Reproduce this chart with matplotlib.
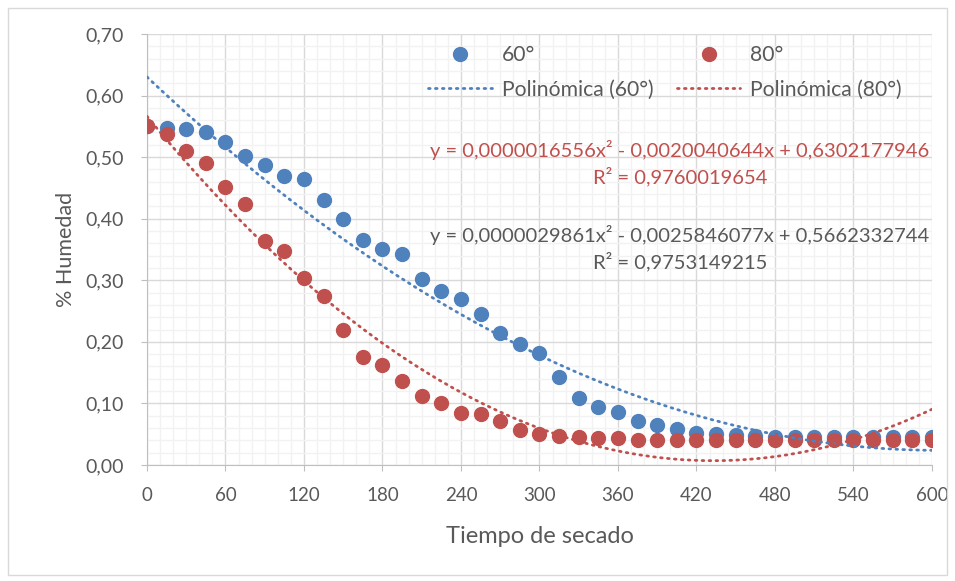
import matplotlib.pyplot as plt
import numpy as np
from matplotlib.patches import Rectangle
from matplotlib.ticker import MultipleLocator, FuncFormatter

# data
tiempo = list(range(0, 601, 15))
hum_60 = [0.550, 0.547, 0.545, 0.541, 0.525, 0.502, 0.487, 0.470, 0.464, 0.430,
          0.399, 0.365, 0.351, 0.343, 0.302, 0.282, 0.270, 0.245, 0.214, 0.197,
          0.182, 0.143, 0.108, 0.094, 0.086, 0.072, 0.065, 0.059, 0.052, 0.050,
          0.048, 0.047, 0.046, 0.046, 0.046, 0.046, 0.046, 0.046, 0.046, 0.046,
          0.046]
hum_80 = [0.551, 0.538, 0.510, 0.490, 0.452, 0.424, 0.363, 0.347, 0.304, 0.274,
          0.220, 0.176, 0.162, 0.137, 0.112, 0.101, 0.084, 0.082, 0.072, 0.057,
          0.050, 0.047, 0.046, 0.043, 0.043, 0.040, 0.040, 0.040, 0.040, 0.040,
          0.040, 0.040, 0.040, 0.040, 0.040, 0.040, 0.040, 0.040, 0.040, 0.040,
          0.040]

# trendline coefficients as printed on the chart
coef_60 = [0.0000016556, -0.0020040644, 0.6302177946]
coef_80 = [0.0000029861, -0.0025846077, 0.5662332744]
eq_a = "y = 0,0000016556x² - 0,0020040644x + 0,6302177946\nR² = 0,9760019654"
eq_b = "y = 0,0000029861x² - 0,0025846077x + 0,5662332744\nR² = 0,9753149215"

blue = '#4F81BD'
red = '#C0504D'
gray = '#595959'

plt.rcParams['font.family'] = ['Lato', 'DejaVu Sans']

fig = plt.figure(figsize=(9.55, 5.81), dpi=100)
ax = fig.add_axes([0.1539, 0.1997, 0.822, 0.7418])

fig.patches.append(Rectangle((8 / 955, 6 / 581), 939 / 955, 567 / 581,
                             transform=fig.transFigure, fill=False,
                             edgecolor='#D9D9D9', linewidth=1))

xs = np.linspace(0, 600, 300)
p60, = ax.plot(tiempo, hum_60, linestyle='none', marker='o', markersize=10,
               color=blue, label='60°', zorder=3)
p80, = ax.plot(tiempo, hum_80, linestyle='none', marker='o', markersize=10,
               color=red, label='80°', zorder=4)
t60, = ax.plot(xs, np.polyval(coef_60, xs), color=blue, linewidth=2,
               linestyle=(0, (0.6, 1.9)), dash_capstyle='round',
               label='Polinómica (60°)', zorder=5)
t80, = ax.plot(xs, np.polyval(coef_80, xs), color=red, linewidth=2,
               linestyle=(0, (0.6, 1.9)), dash_capstyle='round',
               label='Polinómica (80°)', zorder=5)

ax.set_xlim(0, 600)
ax.set_ylim(0, 0.70)
ax.xaxis.set_major_locator(MultipleLocator(60))
ax.xaxis.set_minor_locator(MultipleLocator(10))
ax.yaxis.set_major_locator(MultipleLocator(0.10))
ax.yaxis.set_minor_locator(MultipleLocator(0.02))
ax.yaxis.set_major_formatter(FuncFormatter(lambda v, p: f'{v:.2f}'.replace('.', ',')))
ax.grid(which='major', color='#D9D9D9', linewidth=1)
ax.grid(which='minor', color='#F2F2F2', linewidth=1)
ax.set_axisbelow(True)
for s in ['top', 'right']:
    ax.spines[s].set_visible(False)
for s in ['left', 'bottom']:
    ax.spines[s].set_color('#BFBFBF')
ax.tick_params(which='major', length=4.5, color='#BFBFBF', labelcolor=gray,
               labelsize=14)
ax.tick_params(axis='y', pad=12)
ax.tick_params(axis='x', pad=11, labelsize=13.5)
ax.tick_params(which='minor', length=0)

ax.set_xlabel('Tiempo de secado', color=gray, fontsize=17, labelpad=16)
ax.set_ylabel('% Humedad', color=gray, fontsize=15.5, labelpad=7)

ax.text(680 / 955, 1 - 163 / 581, eq_a, transform=fig.transFigure,
        ha='center', va='center', color=red, fontsize=14.5, linespacing=1.4)
ax.text(680 / 955, 1 - 248 / 581, eq_b, transform=fig.transFigure,
        ha='center', va='center', color=gray, fontsize=14.5, linespacing=1.4)

fig.legend(handles=[p60, t60, p80, t80], ncol=2, frameon=False,
           loc='upper left', bbox_to_anchor=(428 / 955, 1 - 45 / 581),
           fontsize=15.2, labelcolor=gray, handlelength=3.03,
           columnspacing=1.09, borderaxespad=0, labelspacing=0.7,
           handletextpad=0.47, borderpad=0)

fig.savefig('out.png', dpi=100)
